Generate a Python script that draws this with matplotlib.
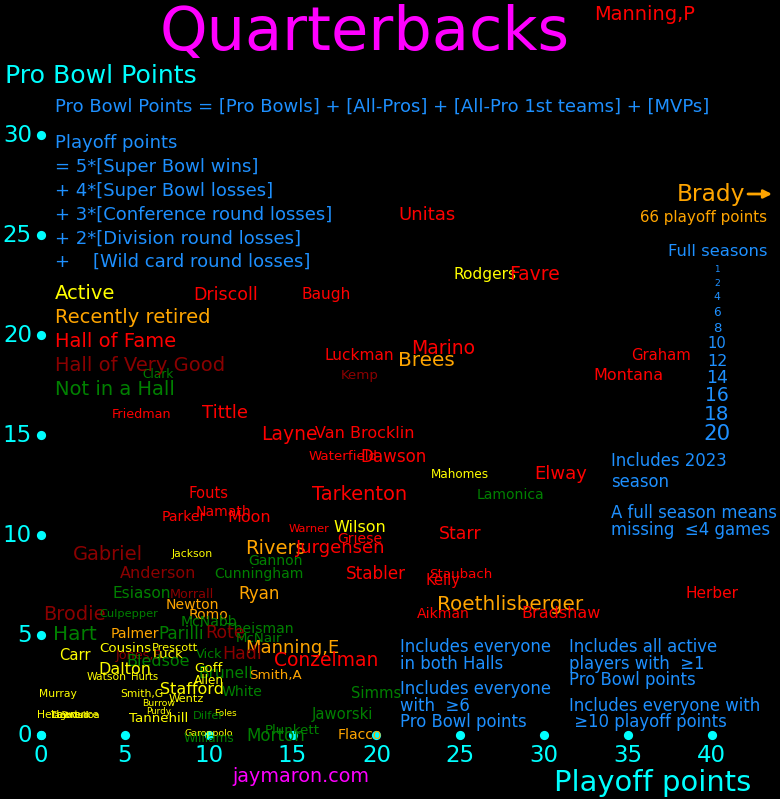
import matplotlib
matplotlib.use('Agg')
import matplotlib.pyplot as plt

W, H = 780, 799

# ---------------- data ----------------
names = ["Manning,P", "Unitas", "Rodgers", "Favre", "Driscoll", "Baugh", "Luckman", "Kemp",
         "Marino", "Brees", "Graham", "Montana", "Clark", "Friedman", "Tittle", "Layne",
         "Van Brocklin", "Waterfield", "Dawson", "Mahomes", "Elway", "Tarkenton", "Lamonica",
         "Fouts", "Namath", "Parker", "Moon", "Warner", "Wilson", "Griese", "Starr", "Gabriel",
         "Jackson", "Rivers", "Jurgensen", "Gannon", "Anderson", "Cunningham", "Stabler",
         "Staubach", "Kelly", "Esiason", "Morrall", "Ryan", "Roethlisberger", "Herber",
         "Newton", "Brodie", "Culpepper", "Romo", "Aikman", "Bradshaw", "McNabb", "Theisman",
         "Hart", "Palmer", "Parilli", "Rote", "McNair", "Manning,E", "Hadl", "Conzelman",
         "Vick", "Cousins", "Prescott", "Carr", "Jones,B", "Luck", "Bledsoe", "Dalton",
         "Watson", "Hurts", "Brunell", "Goff", "Allen", "Smith,A", "Stafford", "White",
         "Murray", "Smith,G", "Wentz", "Burrow", "Purdy", "Foles", "Dilfer", "Tannehill",
         "Simms", "Jaworski", "Plunkett", "Morton", "Flacco", "Garoppolo", "Williams",
         "Herbert", "Lawrence", "Tagovailoa", "Stroud"]

playoff_pts = [36.0, 23.0, 26.5, 29.4, 11.0, 17.0, 19.0, 19.0,
               24.0, 23.0, 37.0, 35.0, 7.0, 6.0, 11.0, 14.8,
               19.3, 18.0, 21.0, 25.0, 31.0, 19.0, 28.0,
               10.0, 10.9, 8.5, 12.4, 16.0, 19.0, 19.0, 25.0, 4.0,
               9.0, 14.0, 17.9, 14.0, 7.0, 13.0, 20.0,
               25.0, 24.0, 6.0, 9.0, 13.0, 28.0, 40.0,
               9.0, 2.0, 5.25, 10.0, 24.0, 31.0, 10.0, 13.0,
               2.0, 5.6, 8.35, 11.0, 13.0, 15.0, 12.0, 17.0,
               10.0, 5.0, 8.0, 2.0, 5.85, 7.6, 7.0, 5.0,
               3.9, 6.15, 11.0, 10.0, 10.0, 14.0, 9.0, 12.0,
               1.0, 6.0, 8.65, 7.0, 7.0, 11.0, 10.0, 7.0,
               20.0, 18.0, 15.0, 14.0, 19.0, 10.0, 10.0,
               1.0, 2.0, 2.0, 2.0]

probowl_pts = [36.0, 26.0, 23.0, 23.0, 22.0, 22.0, 19.0, 18.0,
               19.3, 18.75, 19.0, 18.0, 18.05, 16.05, 16.1, 15.0,
               15.05, 13.9, 13.9, 13.0, 13.05, 12.0, 12.0,
               12.05, 11.15, 10.9, 10.9, 10.3, 10.35, 9.8, 10.05, 9.0,
               9.05, 9.35, 9.35, 8.7, 8.05, 8.05, 8.05,
               8.05, 7.7, 7.05, 7.05, 7.05, 6.5, 7.05,
               6.5, 6.05, 6.05, 6.0, 6.05, 6.05, 5.65, 5.3,
               5.05, 5.05, 5.05, 5.1, 4.8, 4.35, 4.05, 3.75,
               4.05, 4.35, 4.35, 4.0, 4.0, 4.0, 3.7, 3.3,
               2.9, 2.9, 3.1, 3.35, 2.75, 3.0, 2.3, 2.15,
               2.05, 2.05, 1.8, 1.55, 1.2, 1.1, 0.95, 0.85,
               2.05, 1.05, 0.2, -0.05, 0.0, 0.05, -0.2,
               1.0, 1.0, 1.0, 1.0]

seasons = [17, 15, 11, 16, 14, 11, 11, 8,
           16, 18, 10, 12, 6, 7, 15, 16,
           12, 8, 13, 6, 15, 17, 9,
           10, 9, 9, 12, 5, 12, 9, 14, 17,
           4, 17, 15, 9, 12, 9, 13,
           8, 10, 11, 7, 13, 18, 11,
           9, 17, 5, 9, 9, 12, 9, 9,
           18, 9, 13, 14, 8, 15, 14, 16,
           7, 8, 5, 10, 7, 8, 12, 12,
           4, 3, 11, 8, 6, 8, 12, 9,
           4, 4, 5, 2, 1, 1, 5, 8,
           10, 10, 8, 13, 9, 2, 6,
           4, 3, 2, 1]

status = ["H", "H", "A", "H", "H", "H", "H", "V",
          "H", "R", "H", "H", "N", "H", "H", "H",
          "H", "H", "H", "A", "H", "H", "N",
          "H", "H", "H", "H", "H", "A", "H", "H", "V",
          "A", "R", "H", "N", "V", "N", "H",
          "H", "H", "N", "V", "R", "R", "H",
          "R", "V", "N", "R", "H", "H", "N", "N",
          "N", "R", "N", "V", "N", "R", "V", "H",
          "N", "A", "A", "A", "V", "A", "N", "A",
          "A", "A", "N", "A", "A", "R", "A", "N",
          "A", "A", "A", "A", "A", "A", "N", "A",
          "N", "N", "N", "N", "R", "A", "N",
          "A", "A", "A", "A"]

status_codes = ["A", "R", "H", "V", "N"]
status_labels = ["Active", "Recently retired", "Hall of Fame", "Hall of Very Good", "Not in a Hall"]

x_ticks = [0, 5, 10, 15, 20, 25, 30, 35, 40]
y_ticks = [0, 5, 10, 15, 20, 25, 30]
legend_seasons = [1, 2, 4, 6, 8, 10, 12, 14, 16, 18, 20]
brady_seasons = 23

# ---------------- styles ----------------
colors = {"A": "#ffff00", "R": "#ffa500", "H": "#ff0000", "V": "#8b0000", "N": "#008000"}
CYAN = "#00ffff"
BLUE = "#1e90ff"
MAG = "#ff00ff"
ORANGE = "#ffa500"


def fsize(s):
    return 5.8 + 0.48 * s


fig = plt.figure(figsize=(7.8, 7.99), dpi=100, facecolor="black")
ax = fig.add_axes([0, 0, 1, 1])
ax.set_facecolor("black")
ax.set_xlim(-41 / 16.77, (780 - 41) / 16.77)
ax.set_ylim((735 - 799) / 20.0, 735 / 20.0)
ax.axis("off")


def ft(xp, yp, s, **kw):
    fig.text(xp / W, 1 - yp / H, s, **kw)


# axes dots + tick labels
ax.scatter(x_ticks, [0] * len(x_ticks), s=44, color=CYAN, zorder=1, linewidths=0)
ax.scatter([0] * len(y_ticks), y_ticks, s=44, color=CYAN, zorder=1, linewidths=0)
for xv in x_ticks:
    ax.annotate(str(xv), (xv, 0), xytext=(0, -20), textcoords="offset pixels",
                ha="center", va="center", color=CYAN, fontsize=16.5)
for yv in y_ticks:
    ax.annotate(str(yv), (0, yv), xytext=(-9, 0), textcoords="offset pixels",
                ha="right", va="center", color=CYAN, fontsize=16.5)

# players
for n, xv, yv, s, st in zip(names, playoff_pts, probowl_pts, seasons, status):
    ax.text(xv, yv, n, color=colors[st], fontsize=fsize(s), ha="center", va="center", zorder=3)

# titles and axis labels
ft(365, 33, "Quarterbacks", color=MAG, fontsize=43.7, ha="center", va="center")
ft(5, 76, "Pro Bowl Points", color=CYAN, fontsize=18.1, ha="left", va="center")
ft(653, 783, "Playoff points", color=CYAN, fontsize=20.9, ha="center", va="center")
ft(301, 777, "jaymaron.com", color=MAG, fontsize=13.8, ha="center", va="center")

# formulas
ft(55, 107, "Pro Bowl Points = [Pro Bowls] + [All-Pros] + [All-Pro 1st teams] + [MVPs]",
   color=BLUE, fontsize=12.95, ha="left", va="center")
formula = ["Playoff points", "= 5*[Super Bowl wins]", "+ 4*[Super Bowl losses]",
           "+ 3*[Conference round losses]", "+ 2*[Division round losses]",
           "+    [Wild card round losses]"]
for i, line in enumerate(formula):
    ft(55, 143.5 + 23.7 * i, line, color=BLUE, fontsize=12.95, ha="left", va="center")

# status legend
for i, (c, lab) in enumerate(zip(status_codes, status_labels)):
    ft(55, 293.5 + 24 * i, lab, color=colors[c], fontsize=14.0, ha="left", va="center")

# Brady
ft(745, 194, "Brady", color=ORANGE, fontsize=fsize(brady_seasons), ha="right", va="center")
ax.annotate("", xy=(772 / W, 1 - 194 / H), xytext=(748 / W, 1 - 194 / H),
            xycoords="figure fraction", textcoords="figure fraction",
            arrowprops=dict(arrowstyle="-|>", color=ORANGE, lw=2, mutation_scale=12,
                            shrinkA=0, shrinkB=0))
ft(767, 218, "66 playoff points", color=ORANGE, fontsize=10.9, ha="right", va="center")

# full seasons legend
ft(767, 251, "Full seasons", color=BLUE, fontsize=11.8, ha="right", va="center")
leg_y = [269, 283, 297, 313, 328, 344, 362, 378, 396, 414, 434]
for s, yp in zip(legend_seasons, leg_y):
    ft(717, yp, str(s), color=BLUE, fontsize=fsize(s), ha="center", va="center")

# notes
notes = [
    (611, 461, "Includes 2023"), (611, 482, "season"),
    (611, 513, "A full season means"), (611, 530, "missing  \u22644 games"),
    (400, 647, "Includes everyone"), (400, 664, "in both Halls"),
    (400, 689, "Includes everyone"), (400, 706, "with  \u22656"), (400, 722, "Pro Bowl points"),
    (569, 647, "Includes all active"), (569, 664, "players with  \u22651"), (569, 680, "Pro Bowl points"),
    (569, 706, "Includes everyone with"), (569, 722, " \u226510 playoff points"),
]
for xp, yp, t in notes:
    ft(xp, yp, t, color=BLUE, fontsize=11.9, ha="left", va="center")

fig.savefig("out.png", dpi=100, facecolor="black")
